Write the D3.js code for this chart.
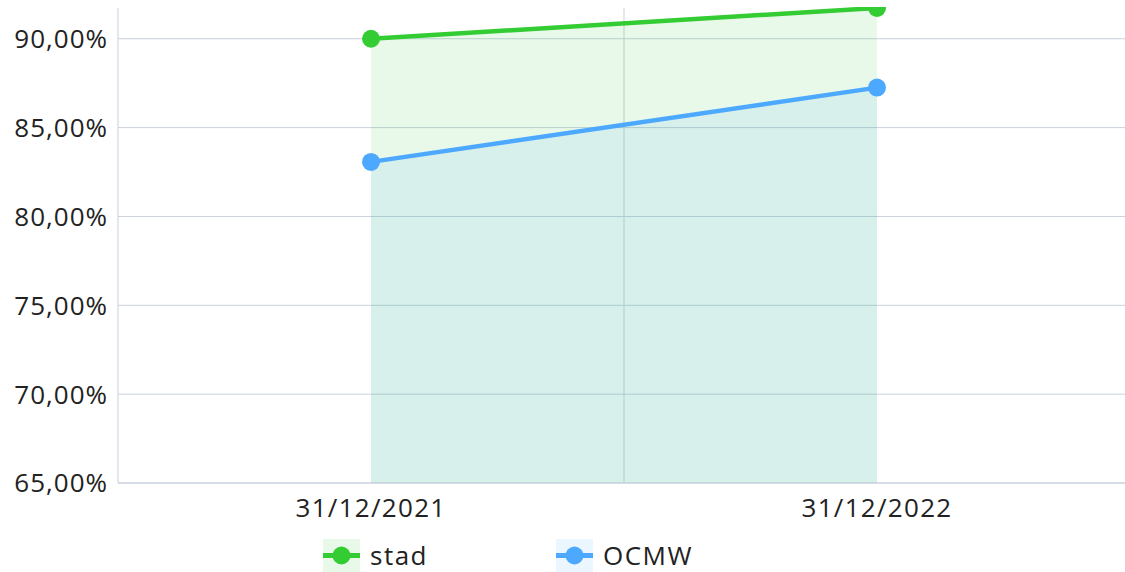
<!DOCTYPE html>
<html><head><meta charset="utf-8">
<script src="https://cdn.jsdelivr.net/npm/d3@7"></script>
<style>
html,body{margin:0;padding:0;background:#fff;}
text{font-family:"Open Sans","Noto Sans",sans-serif;fill:#222;}
</style></head>
<body><svg id="c" width="1125" height="572"></svg>
<script>
const categories = ["31/12/2021", "31/12/2022"];
const seriesNames = ["stad", "OCMW"];
const stadValues = [90.0, 91.73];
const ocmwValues = [83.07, 87.25];
const yTicks = [65, 70, 75, 80, 85, 90];
const colors = ["#33cc33", "#4da9ff"];

const svg = d3.select("#c");
const W = 1125, H = 572;
const m = {l:118, r:-5, t:8, b:89};
const x = d3.scaleBand().domain(categories).range([m.l, W - m.r]);
const y = d3.scaleLinear().domain([65, d3.max(stadValues)]).range([H - m.b, m.t]);
const fmt = v => d3.format(".2f")(v).replace(".", ",") + "%";

// grid
svg.append("g").selectAll("line").data(yTicks).join("line")
  .attr("x1", m.l).attr("x2", W).attr("y1", d => y(d)).attr("y2", d => y(d))
  .attr("stroke", "#c9d1dd").attr("stroke-width", 1);
svg.append("line").attr("x1", x(categories[1])).attr("x2", x(categories[1]))
  .attr("y1", m.t).attr("y2", H - m.b).attr("stroke", "#c9d1dd");

svg.append("defs").append("clipPath").attr("id","clip").append("rect")
  .attr("x", 0).attr("y", m.t - 1).attr("width", W).attr("height", H);

const plot = svg.append("g").attr("clip-path", "url(#clip)");
const series = [stadValues, ocmwValues];
const cx = c => x(c) + x.bandwidth() / 2;

series.forEach((vals, i) => {
  const pts = vals.map((v, j) => [categories[j], v]);
  plot.append("path").datum(pts)
    .attr("d", d3.area().x(d => cx(d[0])).y0(y(65)).y1(d => y(d[1])))
    .attr("fill", colors[i]).attr("fill-opacity", 0.11);
});
series.forEach((vals, i) => {
  const pts = vals.map((v, j) => [categories[j], v]);
  plot.append("path").datum(pts)
    .attr("d", d3.line().x(d => cx(d[0])).y(d => y(d[1])))
    .attr("fill", "none").attr("stroke", colors[i]).attr("stroke-width", 4.5);
  plot.selectAll(null).data(pts).join("circle")
    .attr("cx", d => cx(d[0])).attr("cy", d => y(d[1])).attr("r", 9)
    .attr("fill", colors[i]);
});

// axes
svg.append("line").attr("x1", m.l).attr("x2", m.l).attr("y1", m.t).attr("y2", H - m.b).attr("stroke", "#c9d1dd");
svg.append("line").attr("x1", m.l).attr("x2", W).attr("y1", H - m.b).attr("y2", H - m.b).attr("stroke", "#c9d1dd");

svg.append("g").selectAll("text").data(yTicks).join("text")
  .attr("x", m.l - 10).attr("y", d => y(d)).attr("dy", "0.36em")
  .attr("text-anchor", "end").attr("font-size", 26).attr("letter-spacing", 1).text(fmt);

svg.append("g").selectAll("text").data(categories).join("text")
  .attr("x", d => cx(d)).attr("y", H - m.b + 34)
  .attr("text-anchor", "middle").attr("font-size", 26).attr("letter-spacing", 1.3).text(d => d);

// legend
const legX = [323, 556];
seriesNames.forEach((n, i) => {
  const g = svg.append("g").attr("transform", `translate(${legX[i]},539)`);
  g.append("rect").attr("width", 37).attr("height", 33).attr("fill", colors[i]).attr("fill-opacity", 0.11);
  g.append("line").attr("x1", 0).attr("x2", 37).attr("y1", 16.5).attr("y2", 16.5).attr("stroke", colors[i]).attr("stroke-width", 5);
  g.append("circle").attr("cx", 18.5).attr("cy", 16.5).attr("r", 9).attr("fill", colors[i]);
  g.append("text").attr("x", 47).attr("y", 16.5).attr("dy", "0.36em").attr("font-size", 26).attr("letter-spacing", 1.5).text(n);
});
</script></body></html>
